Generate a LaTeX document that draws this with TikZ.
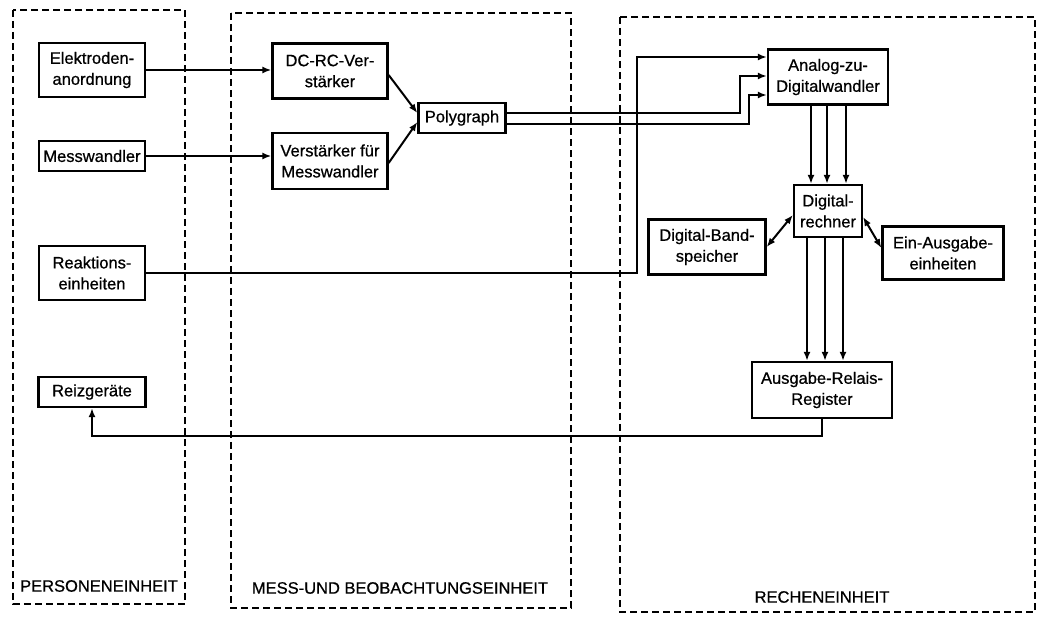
\documentclass[tikz,border=0pt]{standalone}
\usepackage{fontspec}
\setmainfont{Liberation Sans}[FakeBold=0.7]
\usetikzlibrary{arrows.meta,calc}
\begin{document}
\begin{tikzpicture}[x=1pt,y=-1pt,
  box/.style={draw,line width=2.3pt,align=center,inner sep=0pt,font=\fontsize{16.5}{21}\selectfont},
  conn/.style={line width=2pt},
  arr/.style={conn,-{Latex[length=9pt,width=7pt]}},
  barr/.style={conn,{Latex[length=9pt,width=7pt]}-{Latex[length=9pt,width=7pt]}},
  zone/.style={draw,line width=2.2pt,dash pattern=on 7pt off 4pt},
  lbl/.style={font=\fontsize{16.5}{20}\selectfont}]
\useasboundingbox (0,0) rectangle (1063,617);
% zones
\draw[zone] (13,10) rectangle (185,604);
\draw[zone] (231,13) rectangle (571,608);
\draw[zone] (620,17) rectangle (1035,612);
\node[lbl] (l1) at (99,586) {PERSONENEINHEIT};
\node[lbl] (l2) at (400,588) {MESS-UND BEOBACHTUNGSEINHEIT};
\node[lbl] (l3) at (822,597) {RECHENEINHEIT};
% nodes
\node[box,minimum width=106pt,minimum height=54pt] (elek) at (92,70) {Elektroden-\\anordnung};
\node[box,minimum width=106pt,minimum height=30pt] (mess) at (92,156) {Messwandler};
\node[box,minimum width=106pt,minimum height=54pt] (reak) at (92,273) {Reaktions-\\einheiten};
\node[box,minimum width=107pt,minimum height=30pt] (reiz) at (92,392) {Reizgeräte};
\node[box,minimum width=115pt,minimum height=55pt] (dcrc) at (330,71) {DC-RC-Ver-\\stärker};
\node[box,minimum width=115pt,minimum height=56pt] (vfm) at (330,161) {Verstärker für\\Messwandler};
\node[box,minimum width=87pt,minimum height=30pt] (poly) at (462,118) {Polygraph};
\node[box,minimum width=120pt,minimum height=55pt] (adc) at (828,77) {Analog-zu-\\Digitalwandler};
\node[box,minimum width=68pt,minimum height=52pt] (dr) at (828,211) {Digital-\\rechner};
\node[box,minimum width=117pt,minimum height=55pt] (band) at (707,247) {Digital-Band-\\speicher};
\node[box,minimum width=121pt,minimum height=53pt] (ein) at (943,253) {Ein-Ausgabe-\\einheiten};
\node[box,minimum width=140pt,minimum height=56pt] (ar) at (822,390) {Ausgabe-Relais-\\Register};
% connectors
\draw[arr] (elek.east) -- (elek.east -| dcrc.west);
\draw[arr] (mess.east) -- (mess.east -| vfm.west);
\draw[arr] ($(dcrc.east)+(0,4)$) -- ($(poly.west)+(0,-5)$);
\draw[arr] ($(vfm.east)+(0,2)$) -- ($(poly.west)+(0,4)$);
\coordinate (k1) at (637,57);
\coordinate (k2) at (740,76);
\coordinate (k3) at (749,95);
\draw[arr] (reak.east) -| (k1) -- (k1 -| adc.west);
\draw[arr] ($(poly.east)+(0,-5)$) -| (k2) -- (k2 -| adc.west);
\draw[arr] ($(poly.east)+(0,6)$) -| (k3) -- (k3 -| adc.west);
\foreach \i/\dx in {1/-17,2/-1,3/18} {
  \coordinate (a\i) at ($(adc.south)+(\dx,0)$);
  \draw[arr] (a\i) -- (a\i |- dr.north);
}
\foreach \i/\dx in {1/-21,2/-3,3/15} {
  \coordinate (b\i) at ($(dr.south)+(\dx,0)$);
  \draw[arr] (b\i) -- (b\i |- ar.north);
}
\draw[barr] ($(dr.west)+(0,4)$) -- (band.east);
\draw[barr] ($(dr.east)+(0,6)$) -- ($(ein.west)+(0,-5)$);
\draw[arr] (ar.south) |- ($(reiz.south)+(0,28)$) -- (reiz.south);
\end{tikzpicture}
\end{document}
